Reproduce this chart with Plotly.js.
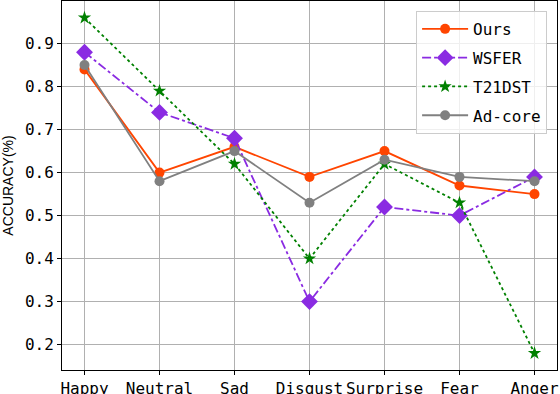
<!DOCTYPE html>
<html>
<head>
<meta charset="utf-8">
<script src="https://cdn.plot.ly/plotly-3.0.1.min.js"></script>
<style>
  body { margin: 0; }
  #plotArea { width: 560px; height: 394px; }
</style>
</head>
<body>
<div id="plotArea"></div>
<script>
var emotions = ["Happy", "Neutral", "Sad", "Disgust", "Surprise", "Fear", "Anger"];
var ours = [0.84, 0.60, 0.66, 0.59, 0.65, 0.57, 0.55];
var wsfer = [0.88, 0.74, 0.68, 0.30, 0.52, 0.50, 0.59];
var t21dst = [0.96, 0.79, 0.62, 0.40, 0.62, 0.53, 0.18];
var adcore = [0.85, 0.58, 0.65, 0.53, 0.63, 0.59, 0.58];

var monoFont = "'DejaVu Sans Mono', 'Liberation Mono', monospace";

var traces = [
    {
        x: emotions, y: ours, name: "Ours", legendgroup: "g1",
        mode: "lines+markers", type: "scatter",
        line: {color: "#FF4500", width: 1.8},
        marker: {symbol: "circle", size: 10, color: "#FF4500"}
    },
    {
        x: emotions, y: wsfer, name: "WSFER", legendgroup: "g2",
        mode: "lines+markers", type: "scatter",
        line: {color: "#8A2BE2", width: 1.8, dash: "dashdot"},
        marker: {symbol: "diamond", size: 13, color: "#8A2BE2"}
    },
    {
        x: emotions, y: t21dst, name: "T21DST", legendgroup: "g3",
        mode: "lines+markers", type: "scatter",
        line: {color: "#008000", width: 1.8, dash: "dot"},
        marker: {symbol: "star", size: 10, color: "#008000"}
    },
    {
        x: emotions, y: adcore, name: "Ad-core", legendgroup: "g4",
        mode: "lines+markers", type: "scatter",
        line: {color: "#808080", width: 1.8},
        marker: {symbol: "circle", size: 10, color: "#808080"}
    }
];

var layout = {
    width: 560,
    height: 394,
    margin: {l: 62, r: 3, t: 1, b: 24},
    paper_bgcolor: "white",
    plot_bgcolor: "white",
    font: {family: monoFont, size: 16, color: "black"},
    xaxis: {
        type: "category",
        range: [-0.3, 6.3],
        showgrid: true, gridcolor: "#b0b0b0", gridwidth: 1,
        showline: true, linecolor: "black", linewidth: 1, mirror: true,
        ticks: "outside", ticklen: 4, tickcolor: "black",
        tickfont: {family: monoFont, size: 16},
        zeroline: false
    },
    yaxis: {
        range: [0.141, 0.999],
        tickvals: [0.2, 0.3, 0.4, 0.5, 0.6, 0.7, 0.8, 0.9],
        tickformat: ".1f",
        showgrid: true, gridcolor: "#b0b0b0", gridwidth: 1,
        showline: true, linecolor: "black", linewidth: 1, mirror: true,
        ticks: "outside", ticklen: 4, tickcolor: "black",
        tickfont: {family: monoFont, size: 16},
        zeroline: false,
        title: {text: "ACCURACY(%)", font: {family: "'Liberation Sans', Arial, sans-serif", size: 14}, standoff: 8}
    },
    legend: {
        x: 0.98, y: 0.973, xanchor: "right", yanchor: "top",
        bgcolor: "rgba(255,255,255,0.8)",
        bordercolor: "#cccccc", borderwidth: 1,
        font: {family: monoFont, size: 16},
        itemwidth: 46,
        tracegroupgap: 5
    },
    showlegend: true
};

Plotly.newPlot("plotArea", traces, layout, {displayModeBar: false});
</script>
</body>
</html>
